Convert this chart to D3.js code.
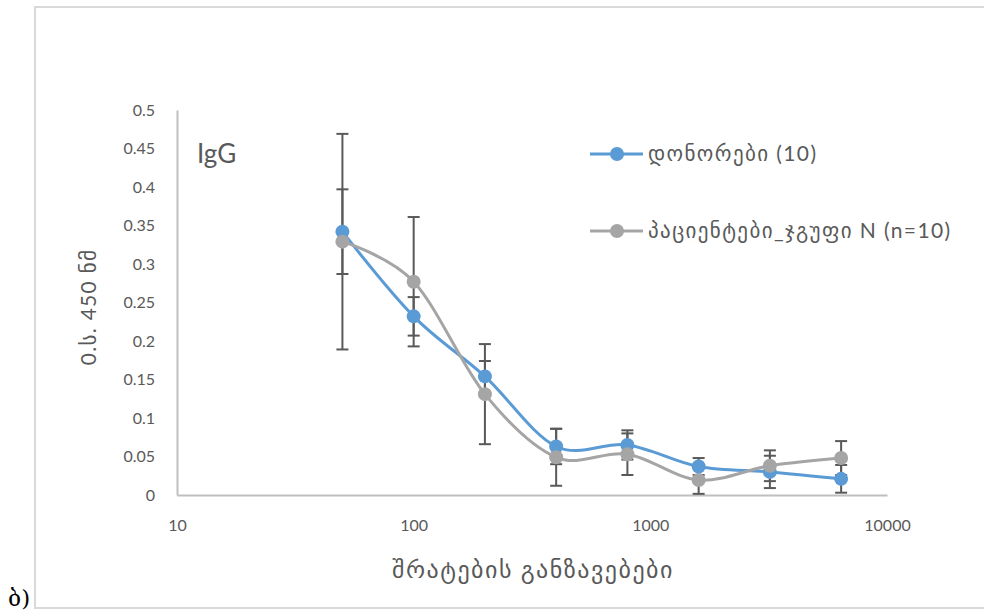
<!DOCTYPE html>
<html>
<head>
<meta charset="utf-8">
<script src="https://cdn.jsdelivr.net/npm/d3@7"></script>
<style>
  body { margin: 0; background: #fff; }
  text { font-family: Lato, "DejaVu Sans", sans-serif; fill: #595959; }
</style>
</head>
<body>
<div id="chart"></div>
<script>
// dilution steps (x) and the two series with their error bars
const dilutions = [50, 100, 200, 400, 800, 1600, 3200, 6400];
const donorMeans = [0.342, 0.232, 0.154, 0.063, 0.065, 0.037, 0.030, 0.021];
const donorErr = [0.055, 0.025, 0.020, 0.023, 0.019, 0.011, 0.021, 0.018];
const patientMeans = [0.329, 0.277, 0.131, 0.049, 0.053, 0.0195, 0.038, 0.048];
const patientErr = [0.140, 0.084, 0.065, 0.037, 0.027, 0.018, 0.020, 0.022];

const seriesNames = ["დონორები (10)", "პაციენტები_ჯგუფი N (n=10)"];
const xTicks = [10, 100, 1000, 10000];
const yTicks = [0, 0.05, 0.1, 0.15, 0.2, 0.25, 0.3, 0.35, 0.4, 0.45, 0.5];

const width = 984, height = 615;
const margin = {top: 110, right: 97, bottom: 120, left: 177};
const colors = ["#5b9bd5", "#a5a5a5"];

const svg = d3.select("#chart").append("svg")
    .attr("width", width)
    .attr("height", height);

svg.append("rect").attr("width", width).attr("height", height).attr("fill", "#fff");

// outer frame (cut off on the right side)
svg.append("path")
    .attr("d", `M${width + 5},7 H35 V608 H${width + 5}`)
    .attr("fill", "none")
    .attr("stroke", "#d9d9d9")
    .attr("stroke-width", 2);

svg.append("text")
    .attr("x", 8)
    .attr("y", 606)
    .style("font-family", "'DejaVu Serif', serif")
    .style("font-size", "23px")
    .style("fill", "#000")
    .text("ბ)");

const x = d3.scaleLog()
    .domain([10, 10000])
    .range([margin.left, width - margin.right]);

const y = d3.scaleLinear()
    .domain([0, 0.5])
    .range([height - margin.bottom, margin.top]);

// axes
const xAxis = d3.axisBottom(x)
    .tickValues(xTicks)
    .tickFormat(d3.format("d"))
    .tickSize(0)
    .tickPadding(25);

const yAxis = d3.axisLeft(y)
    .tickValues(yTicks)
    .tickFormat(d => String(d))
    .tickSize(0)
    .tickPadding(22);

const xAxisG = svg.append("g")
    .attr("transform", `translate(0,${y(0)})`)
    .call(xAxis);

const yAxisG = svg.append("g")
    .attr("transform", `translate(${x(10)},0)`)
    .call(yAxis);

[xAxisG, yAxisG].forEach(g => {
    g.select(".domain").attr("stroke", "#bfbfbf").attr("stroke-width", 2);
    g.selectAll("text").style("font-size", "16px").style("fill", "#595959");
});

// axis titles
svg.append("text")
    .attr("x", 533)
    .attr("y", 578)
    .attr("text-anchor", "middle")
    .style("font-size", "24px")
    .style("letter-spacing", "1.5px")
    .text("შრატების განზავებები");

svg.append("text")
    .attr("transform", "translate(96,307) rotate(-90)")
    .attr("text-anchor", "middle")
    .style("font-size", "21px")
    .style("letter-spacing", "1.3px")
    .text("0.ს. 450 ნმ");

svg.append("text")
    .attr("x", 197)
    .attr("y", 163)
    .style("font-size", "26px")
    .text("IgG");

const series = [
    {name: seriesNames[0], means: donorMeans, err: donorErr, color: colors[0]},
    {name: seriesNames[1], means: patientMeans, err: patientErr, color: colors[1]}
];

series.forEach(s => {
    s.values = dilutions.map((d, i) => ({x: d, y: s.means[i], e: s.err[i]}));
});

// error bars go underneath the lines
const capW = 6;
series.forEach(s => {
    const g = svg.append("g")
        .attr("stroke", "#595959")
        .attr("stroke-width", 2);
    s.values.forEach(d => {
        const cx = x(d.x), top = y(d.y + d.e), bot = y(Math.max(0, d.y - d.e));
        g.append("line").attr("x1", cx).attr("x2", cx).attr("y1", top).attr("y2", bot);
        g.append("line").attr("x1", cx - capW).attr("x2", cx + capW).attr("y1", top).attr("y2", top);
        g.append("line").attr("x1", cx - capW).attr("x2", cx + capW).attr("y1", bot).attr("y2", bot);
    });
});

const line = d3.line()
    .x(d => x(d.x))
    .y(d => y(d.y))
    .curve(d3.curveCardinal.tension(0));

series.forEach(s => {
    svg.append("path")
        .datum(s.values)
        .attr("fill", "none")
        .attr("stroke", s.color)
        .attr("stroke-width", 3)
        .attr("d", line);

    svg.append("g").selectAll("circle")
        .data(s.values)
        .join("circle")
        .attr("cx", d => x(d.x))
        .attr("cy", d => y(d.y))
        .attr("r", 7)
        .attr("fill", s.color);
});

// legend
const legendY = [154, 231];
series.forEach((s, i) => {
    const g = svg.append("g").attr("transform", `translate(590,${legendY[i]})`);
    g.append("line")
        .attr("x1", 0).attr("x2", 53)
        .attr("stroke", s.color)
        .attr("stroke-width", 3);
    g.append("circle")
        .attr("cx", 27)
        .attr("r", 7)
        .attr("fill", s.color);
    g.append("text")
        .attr("x", 58)
        .attr("dy", "0.35em")
        .style("font-size", "21px")
        .style("letter-spacing", "1.4px")
        .text(s.name);
});
</script>
</body>
</html>
